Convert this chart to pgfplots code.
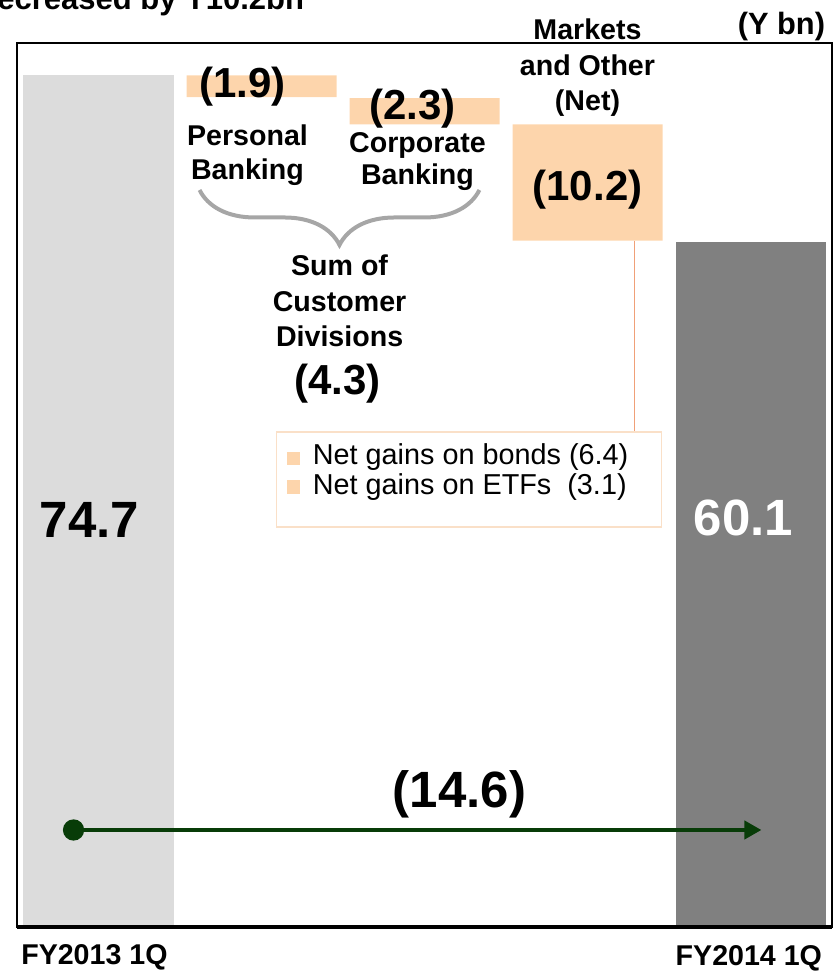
\documentclass[border=0pt]{standalone}
\usepackage{fontspec}
\setmainfont{Liberation Sans}
\usepackage{pgfplots}
\pgfplotsset{compat=1.18}
\usetikzlibrary{decorations.pathreplacing, arrows.meta}

\definecolor{lightbar}{RGB}{220,220,220}
\definecolor{darkbar}{RGB}{128,128,128}
\definecolor{orangebar}{RGB}{253,213,172}
\definecolor{arrowgreen}{RGB}{8,60,8}
\definecolor{bracegray}{RGB}{166,166,166}
\definecolor{linkline}{RGB}{240,160,120}
\definecolor{boxline}{RGB}{250,224,200}

\begin{document}
\begin{tikzpicture}[
  lab/.style={font=\fontsize{14.3}{17}\selectfont\bfseries, anchor=base, inner sep=0pt},
  num/.style={font=\fontsize{21}{25}\selectfont\bfseries, anchor=base, inner sep=0pt},
  big/.style={font=\fontsize{25.5}{30}\selectfont\bfseries, anchor=base, inner sep=0pt},
  leg/.style={font=\fontsize{14.4}{15}\selectfont, anchor=base west, inner sep=0pt},
]
\begin{axis}[
    at={(0,0)}, anchor=south west,
    x=81.5pt, y=5.7pt,
    xmin=-0.5, xmax=4.5, ymin=0, ymax=77.55,
    xtick=\empty, ytick=\empty,
    axis line style={line width=1pt},
    ybar stacked, reverse stacked plots=false, bar width=75pt,
    clip=false,
]
% waterfall steps: invisible base, then the drop
\addplot[bar shift=0pt, draw=none, fill=none] coordinates {(1,72.8) (2,70.4) (3,60.2)};
\addplot[bar shift=0pt, draw=none, fill=orangebar] coordinates {(1,1.9) (2,2.3) (3,10.2)};
% start and end totals
\addplot[stack plots=false, bar shift=0pt, draw=none, fill=lightbar] coordinates {(0,74.7)};
\addplot[stack plots=false, bar shift=0pt, draw=none, fill=darkbar] coordinates {(4,60.1)};

\draw[line width=2.3pt] (rel axis cs:0,0) -- (rel axis cs:1,0);

% link from markets bar to the breakdown box
\addplot[sharp plot, stack plots=false, color=linkline, line width=0.6pt] coordinates {(3.288,60.2) (3.288,43.42)};
\draw[boxline, line width=0.8pt] (axis cs:1.092,43.42) rectangle (axis cs:3.454,35.09);
\addplot[only marks, stack plots=false, mark=square*, mark size=3.2pt, color=orangebar] coordinates {(1.196,41.1) (1.196,38.6)};
\node[leg] at (axis cs:1.313,40.53) {Net gains on bonds (6.4)};
\node[leg] at (axis cs:1.313,37.98) {Net gains on ETFs~ (3.1)};

% overall change arrow
\addplot[sharp plot, stack plots=false, color=arrowgreen, line width=2pt,
    -{Triangle[length=8.5pt, width=9pt]}, mark=*, mark indices={1},
    mark options={solid, mark size=4.3pt}] coordinates {(-0.153,8.51) (4.067,8.51)};
\node[big] at (axis cs:2.215,10.44) {(14.6)};

% brace over customer divisions
\draw[decorate, decoration={brace, amplitude=27.5pt}, line width=2pt, bracegray]
    (axis cs:2.337,64.65) -- (axis cs:0.620,64.65);

\node[big] at (axis cs:-0.055,34.21) {74.7};
\node[big, white] at (axis cs:3.957,34.30) {60.1};

\node[num] at (axis cs:0.883,72.72) {(1.9)};
\node[lab] at (axis cs:0.914,68.51) {Personal};
\node[lab] at (axis cs:0.914,65.53) {Banking};

\node[num] at (axis cs:1.926,70.79) {(2.3)};
\node[lab] at (axis cs:1.957,67.98) {Corporate};
\node[lab] at (axis cs:1.957,65.09) {Banking};

\node[lab] at (axis cs:3.0,77.89) {Markets};
\node[lab] at (axis cs:3.0,74.65) {and Other};
\node[lab] at (axis cs:3.0,71.58) {(Net)};
\node[num] at (axis cs:3.0,63.77) {(10.2)};

\node[lab] at (axis cs:1.479,57.11) {Sum of};
\node[lab] at (axis cs:1.479,53.95) {Customer};
\node[lab] at (axis cs:1.479,50.96) {Divisions};
\node[num] at (axis cs:1.466,46.67) {(4.3)};

\node[lab] at (axis cs:-0.025,-3.33) {FY2013 1Q};
\node[lab] at (axis cs:3.99,-3.42) {FY2014 1Q};

\node[font=\fontsize{15.4}{18}\selectfont\bfseries, anchor=base east, inner sep=0pt]
    at (axis cs:4.46,78.25) {(Y bn)};
\node[font=\fontsize{15.5}{18}\selectfont\bfseries, anchor=base east, inner sep=0pt]
    at (axis cs:1.264,80.44) {Decreased by Y10.2bn};
\end{axis}
\pgfresetboundingbox
\useasboundingbox (-8.5pt,-22pt) rectangle (407.5pt,463.5pt);
\end{tikzpicture}
\end{document}
